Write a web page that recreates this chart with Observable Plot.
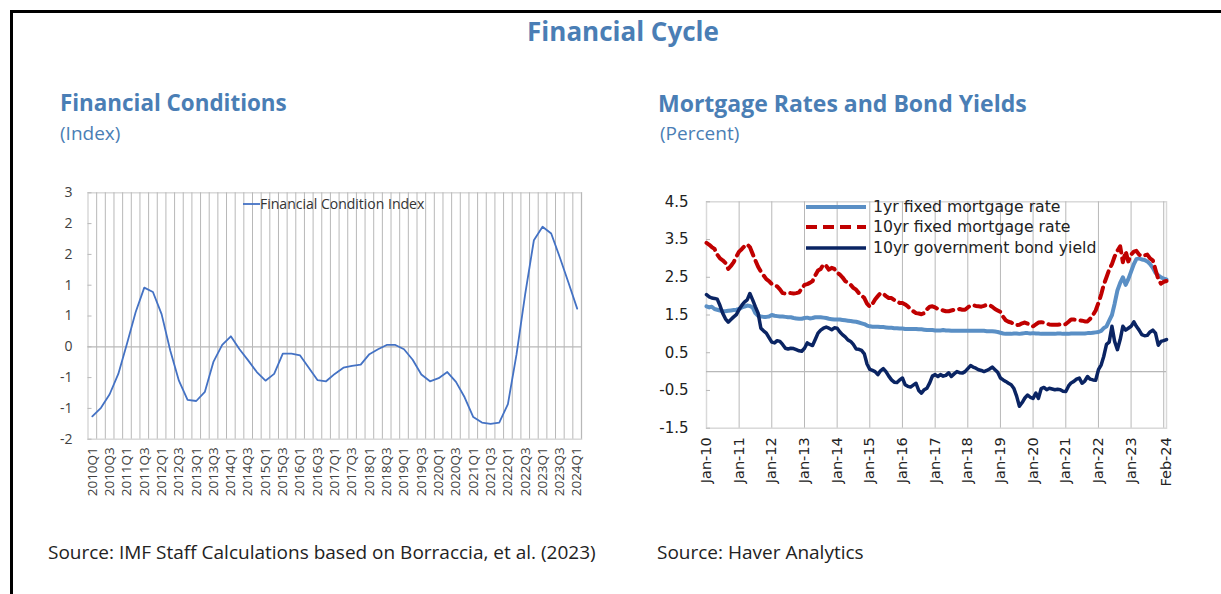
<!DOCTYPE html>
<html>
<head>
<meta charset="utf-8">
<script src="https://cdn.jsdelivr.net/npm/d3@7"></script>
<script src="https://cdn.jsdelivr.net/npm/@observablehq/plot@0.6"></script>
<style>
  html, body { margin: 0; padding: 0; background: #fff; }
  #root { position: relative; width: 1221px; height: 594px; overflow: hidden; background: #fff; font-family: "Open Sans", sans-serif; }
  .frameline { position: absolute; left: 10px; top: 10px; width: 1300px; height: 700px; border-top: 3px solid #000; border-left: 3px solid #000; }
  .title { position: absolute; color: #4a7eb5; white-space: nowrap; font-family: "Open Sans", sans-serif; }
  .src { position: absolute; color: #222; white-space: nowrap; font-size: 19px; font-family: "Open Sans", sans-serif; }
  .chart { position: absolute; }
  .legend { position: absolute; white-space: nowrap; }
  .legend .row { display: flex; align-items: center; }
</style>
</head>
<body>
<div id="root">
  <div class="frameline"></div>
  <div class="title" style="left:423px;width:400px;text-align:center;top:14px;font-size:26px;font-weight:700;line-height:34px;">Financial Cycle</div>
  <div class="title" style="left:60px;top:88px;font-size:22.4px;font-weight:700;line-height:30px;">Financial Conditions</div>
  <div class="title" style="left:60px;top:120px;font-size:19px;line-height:26px;">(Index)</div>
  <div class="title" style="left:658px;top:88px;font-size:23px;font-weight:700;line-height:30px;">Mortgage Rates and Bond Yields</div>
  <div class="title" style="left:660px;top:120px;font-size:19px;line-height:26px;">(Percent)</div>
  <div class="src" style="left:48px;top:539px;line-height:26px;">Source: IMF Staff Calculations based on Borraccia, et al. (2023)</div>
  <div class="src" style="left:657px;top:539px;line-height:26px;">Source: Haver Analytics</div>
  <div id="left" class="chart" style="left:0px;top:150px;"></div>
  <div id="right" class="chart" style="left:640px;top:180px;"></div>
  <div id="legL" class="legend" style="left:243px;top:195px;"></div>
  <div id="legR" class="legend" style="left:806px;top:197px;"></div>
</div>
<script>
// ---------------- Financial Conditions (quarterly index) ----------------
const quarters = [
  "2010Q1","2010Q2","2010Q3","2010Q4","2011Q1","2011Q2","2011Q3","2011Q4",
  "2012Q1","2012Q2","2012Q3","2012Q4","2013Q1","2013Q2","2013Q3","2013Q4",
  "2014Q1","2014Q2","2014Q3","2014Q4","2015Q1","2015Q2","2015Q3","2015Q4",
  "2016Q1","2016Q2","2016Q3","2016Q4","2017Q1","2017Q2","2017Q3","2017Q4",
  "2018Q1","2018Q2","2018Q3","2018Q4","2019Q1","2019Q2","2019Q3","2019Q4",
  "2020Q1","2020Q2","2020Q3","2020Q4","2021Q1","2021Q2","2021Q3","2021Q4",
  "2022Q1","2022Q2","2022Q3","2022Q4","2023Q1","2023Q2","2023Q3","2023Q4",
  "2024Q1"
];
const fciValues = [
  -1.13, -0.99, -0.77, -0.44, 0.05, 0.56, 0.96, 0.89,
  0.53, -0.06, -0.55, -0.86, -0.88, -0.73, -0.24, 0.03,
  0.17, -0.04, -0.22, -0.41, -0.55, -0.44, -0.11, -0.11,
  -0.14, -0.34, -0.54, -0.56, -0.44, -0.34, -0.31, -0.29,
  -0.12, -0.04, 0.03, 0.03, -0.04, -0.21, -0.45, -0.56,
  -0.51, -0.41, -0.57, -0.82, -1.14, -1.23, -1.25, -1.23,
  -0.93, -0.12, 0.86, 1.73, 1.95, 1.84, 1.45, 1.04,
  0.62
];
const fciTicks = [2.5, 2, 1.5, 1, 0.5, 0, -0.5, -1, -1.5];
const fciTickLabels = ["3", "2", "2", "1", "1", "0", "-1", "-1", "-2"];
const fciLabelQuarters = quarters.filter((q, i) => i % 2 === 0);
const fciSeriesName = "Financial Condition Index";

// ---------------- Mortgage rates and bond yields (monthly, Jan-10 .. Feb-24) ----------------
const rateFirstMonth = "2010-01-01";
const rateLastMonth = "2024-02-01";
const oneYearFixed = [
  1.73,1.70,1.72,1.66,1.64,1.62,1.60,1.60,1.61,1.62,
  1.63,1.64,1.66,1.70,1.72,1.75,1.74,1.70,1.55,1.48,
  1.46,1.45,1.45,1.46,1.50,1.48,1.47,1.46,1.46,1.45,
  1.44,1.44,1.42,1.41,1.40,1.40,1.42,1.43,1.41,1.42,
  1.44,1.44,1.44,1.43,1.42,1.40,1.39,1.38,1.38,1.38,
  1.37,1.36,1.35,1.34,1.33,1.32,1.30,1.28,1.26,1.22,
  1.20,1.19,1.19,1.19,1.18,1.18,1.17,1.16,1.16,1.15,
  1.15,1.14,1.14,1.13,1.13,1.13,1.13,1.13,1.12,1.12,
  1.11,1.10,1.10,1.10,1.09,1.09,1.09,1.10,1.09,1.09,
  1.08,1.08,1.08,1.08,1.08,1.08,1.08,1.08,1.08,1.08,
  1.08,1.08,1.08,1.07,1.07,1.07,1.06,1.05,1.03,1.01,
  1.00,1.00,1.00,1.01,1.01,1.00,1.01,1.02,1.02,1.01,
  1.02,1.01,1.01,1.00,1.00,1.00,1.00,1.00,1.00,1.01,
  1.01,1.00,1.00,1.00,1.01,1.01,1.01,1.01,1.01,1.01,
  1.02,1.02,1.03,1.04,1.05,1.08,1.15,1.20,1.35,1.50,
  1.80,2.15,2.35,2.50,2.30,2.45,2.65,2.85,2.98,3.00,
  2.97,2.96,2.92,2.85,2.75,2.62,2.55,2.50,2.46,2.44
];
const tenYearFixed = [
  3.41,3.36,3.30,3.25,3.10,3.00,2.95,2.88,2.72,2.80,
  2.90,3.05,3.18,3.25,3.32,3.37,3.30,3.12,2.95,2.78,
  2.65,2.55,2.45,2.40,2.32,2.28,2.26,2.18,2.08,2.07,
  2.09,2.08,2.07,2.08,2.10,2.20,2.30,2.32,2.35,2.40,
  2.55,2.68,2.72,2.84,2.80,2.70,2.75,2.72,2.62,2.57,
  2.50,2.40,2.35,2.30,2.22,2.17,2.08,2.02,1.95,1.80,
  1.72,1.80,1.91,2.00,2.08,2.06,2.00,1.95,1.95,1.90,
  1.86,1.82,1.82,1.78,1.73,1.65,1.60,1.55,1.54,1.52,
  1.55,1.65,1.72,1.73,1.70,1.66,1.64,1.62,1.60,1.60,
  1.62,1.64,1.64,1.66,1.64,1.64,1.70,1.75,1.76,1.74,
  1.73,1.72,1.74,1.77,1.76,1.72,1.66,1.62,1.58,1.45,
  1.36,1.32,1.30,1.26,1.23,1.24,1.28,1.30,1.27,1.22,
  1.20,1.25,1.30,1.31,1.30,1.27,1.25,1.24,1.24,1.24,
  1.25,1.24,1.26,1.32,1.38,1.38,1.37,1.36,1.35,1.33,
  1.33,1.40,1.50,1.62,1.82,2.05,2.30,2.50,2.70,2.85,
  3.05,3.20,3.32,2.90,3.19,2.92,3.10,3.18,3.20,3.10,
  3.06,3.08,3.10,3.00,2.95,2.70,2.45,2.33,2.38,2.40
];
const tenYearGov = [
  2.04,1.98,1.95,1.94,1.92,1.75,1.55,1.40,1.31,1.38,
  1.45,1.51,1.65,1.76,1.84,1.90,2.07,1.90,1.72,1.55,
  1.15,1.08,1.02,0.90,0.78,0.76,0.82,0.80,0.72,0.62,
  0.60,0.62,0.61,0.58,0.55,0.54,0.62,0.76,0.72,0.69,
  0.85,1.02,1.10,1.15,1.18,1.15,1.11,1.16,1.15,1.05,
  0.98,0.92,0.84,0.80,0.72,0.60,0.59,0.56,0.47,0.20,
  0.06,0.03,0.00,-0.08,0.02,0.08,0.00,-0.12,-0.22,-0.28,
  -0.29,-0.22,-0.17,-0.35,-0.39,-0.41,-0.36,-0.31,-0.50,-0.57,
  -0.48,-0.44,-0.30,-0.12,-0.08,-0.13,-0.08,-0.12,-0.10,-0.03,
  -0.13,-0.06,0.00,-0.03,-0.04,0.00,0.08,0.16,0.12,0.09,
  0.05,0.03,0.00,0.03,0.07,0.12,0.05,-0.02,-0.17,-0.22,
  -0.26,-0.31,-0.35,-0.45,-0.65,-0.92,-0.82,-0.70,-0.62,-0.68,
  -0.71,-0.57,-0.71,-0.45,-0.42,-0.48,-0.44,-0.46,-0.48,-0.47,
  -0.48,-0.52,-0.53,-0.38,-0.30,-0.26,-0.20,-0.17,-0.31,-0.25,
  -0.13,-0.20,-0.22,-0.23,0.05,0.18,0.40,0.72,0.78,1.20,
  0.80,0.58,0.85,1.20,1.10,1.15,1.20,1.32,1.20,1.10,
  0.98,0.95,0.96,1.05,1.10,1.02,0.70,0.80,0.82,0.85
];
const rateTicks = [4.5, 3.5, 2.5, 1.5, 0.5, -0.5, -1.5];
const rateXTickDates = [
  "2010-01-01","2011-01-01","2012-01-01","2013-01-01","2014-01-01","2015-01-01","2016-01-01",
  "2017-01-01","2018-01-01","2019-01-01","2020-01-01","2021-01-01","2022-01-01","2023-01-01","2024-02-01"
];
const rateXTickLabels = [
  "Jan-10","Jan-11","Jan-12","Jan-13","Jan-14","Jan-15","Jan-16",
  "Jan-17","Jan-18","Jan-19","Jan-20","Jan-21","Jan-22","Jan-23","Feb-24"
];
const rateYearMarks = [
  "2011-01-01","2012-01-01","2013-01-01","2014-01-01","2015-01-01","2016-01-01","2017-01-01",
  "2018-01-01","2019-01-01","2020-01-01","2021-01-01","2022-01-01","2023-01-01","2024-01-01"
];
const rateSeriesNames = ["1yr fixed mortgage rate", "10yr fixed mortgage rate", "10yr government bond yield"];
const rateColors = ["#5a8fc5", "#c00000", "#0a2463"];

// ---------------- Left chart ----------------
const L = {w: 600, h: 370, ml: 87.5, mr: 19, mt: 42.3, mb: 81.3};
const fciData = quarters.map((q, i) => ({quarter: q, value: fciValues[i]}));
const fciStep = (L.w - L.ml - L.mr) / quarters.length;

const leftChart = Plot.plot({
  width: L.w, height: L.h,
  marginLeft: L.ml, marginRight: L.mr, marginTop: L.mt, marginBottom: L.mb,
  style: {fontFamily: "Open Sans, sans-serif", fontSize: "13px", color: "#404040", background: "transparent", overflow: "visible"},
  x: {type: "point", domain: quarters, padding: 0.5, axis: null},
  y: {domain: [-1.5, 2.5], axis: null},
  marks: [
    Plot.frame({stroke: "#d9d9d9", strokeWidth: 1.5}),
    Plot.ruleY([0], {stroke: "#b8b8b8", strokeWidth: 1.3}),
    Plot.tickX(quarters, {x: d => d, y1: 0, y2: 0.065, dx: fciStep / 2, stroke: "#b8b8b8", strokeWidth: 1}),
    Plot.axisY(fciTicks, {anchor: "left", label: null, tickSize: -4, tickPadding: 19.5, stroke: "#b8b8b8", fontSize: 14,
      tickFormat: d => fciTickLabels[fciTicks.indexOf(d)]}),
    Plot.axisX(fciLabelQuarters, {anchor: "bottom", label: null, tickSize: 0, tickPadding: 8, tickRotate: -90, fontSize: 13.5}),
    Plot.line(fciData, {x: "quarter", y: "value", stroke: "#4472c4", strokeWidth: 1.8})
  ]
});
document.getElementById("left").appendChild(leftChart);

document.getElementById("legL").innerHTML =
  `<div class="row" style="font-family:'Open Sans',sans-serif;font-size:14px;color:#333;line-height:18px;">
     <svg width="17" height="10"><line x1="0" y1="5" x2="17" y2="5" stroke="#4472c4" stroke-width="1.8"/></svg>
     <span>${fciSeriesName}</span></div>`;

// ---------------- Right chart ----------------
const R = {w: 540, h: 320, ml: 66, mr: 14, mt: 21.3, mb: 72.3};
const months = d3.utcMonth.range(new Date(rateFirstMonth), d3.utcMonth.offset(new Date(rateLastMonth), 1));
const rateData = months.map((d, i) => ({date: d, one: oneYearFixed[i], ten: tenYearFixed[i], gov: tenYearGov[i]}));
const tickDates = rateXTickDates.map(s => new Date(s));
const yearMarks = rateYearMarks.map(s => new Date(s));

const rightChart = Plot.plot({
  width: R.w, height: R.h,
  marginLeft: R.ml, marginRight: R.mr, marginTop: R.mt, marginBottom: R.mb,
  style: {fontFamily: "DejaVu Sans, sans-serif", fontSize: "14px", color: "#222", background: "transparent", overflow: "visible"},
  x: {type: "utc", domain: [new Date(rateFirstMonth), new Date(rateLastMonth)], axis: null},
  y: {domain: [-1.5, 4.5], axis: null},
  marks: [
    Plot.frame({stroke: "#d9d9d9", strokeWidth: 1.5}),
    Plot.ruleY([0], {stroke: "#b8b8b8", strokeWidth: 1.3}),
    Plot.tickX(yearMarks, {x: d => d, y1: 0, y2: 0.12, stroke: "#b8b8b8", strokeWidth: 1}),
    Plot.axisY(rateTicks, {anchor: "left", label: null, tickSize: -4, tickPadding: 22, stroke: "#b8b8b8", fontSize: 15,
      tickFormat: d => d.toFixed(1)}),
    Plot.axisX(tickDates, {anchor: "bottom", label: null, tickSize: 0, tickPadding: 9, tickRotate: -90, fontSize: 14.5,
      tickFormat: d => rateXTickLabels[tickDates.findIndex(t => +t === +d)]}),
    Plot.line(rateData, {x: "date", y: "one", stroke: rateColors[0], strokeWidth: 4}),
    Plot.line(rateData, {x: "date", y: "ten", stroke: rateColors[1], strokeWidth: 4, strokeDasharray: "11,6"}),
    Plot.line(rateData, {x: "date", y: "gov", stroke: rateColors[2], strokeWidth: 3.5})
  ]
});
document.getElementById("right").appendChild(rightChart);

const legStyles = [
  {w: 4, dash: ""},
  {w: 4, dash: "11,6"},
  {w: 3.5, dash: ""}
];
document.getElementById("legR").innerHTML = rateSeriesNames.map((name, i) =>
  `<div class="row" style="font-family:'DejaVu Sans',sans-serif;font-size:15.7px;color:#222;line-height:20.3px;height:20.3px;">
     <svg width="60" height="10" style="margin-right:7px"><line x1="0" y1="5" x2="60" y2="5" stroke="${rateColors[i]}" stroke-width="${legStyles[i].w}" stroke-dasharray="${legStyles[i].dash}"/></svg>
     <span>${name}</span></div>`).join("");
</script>
</body>
</html>
